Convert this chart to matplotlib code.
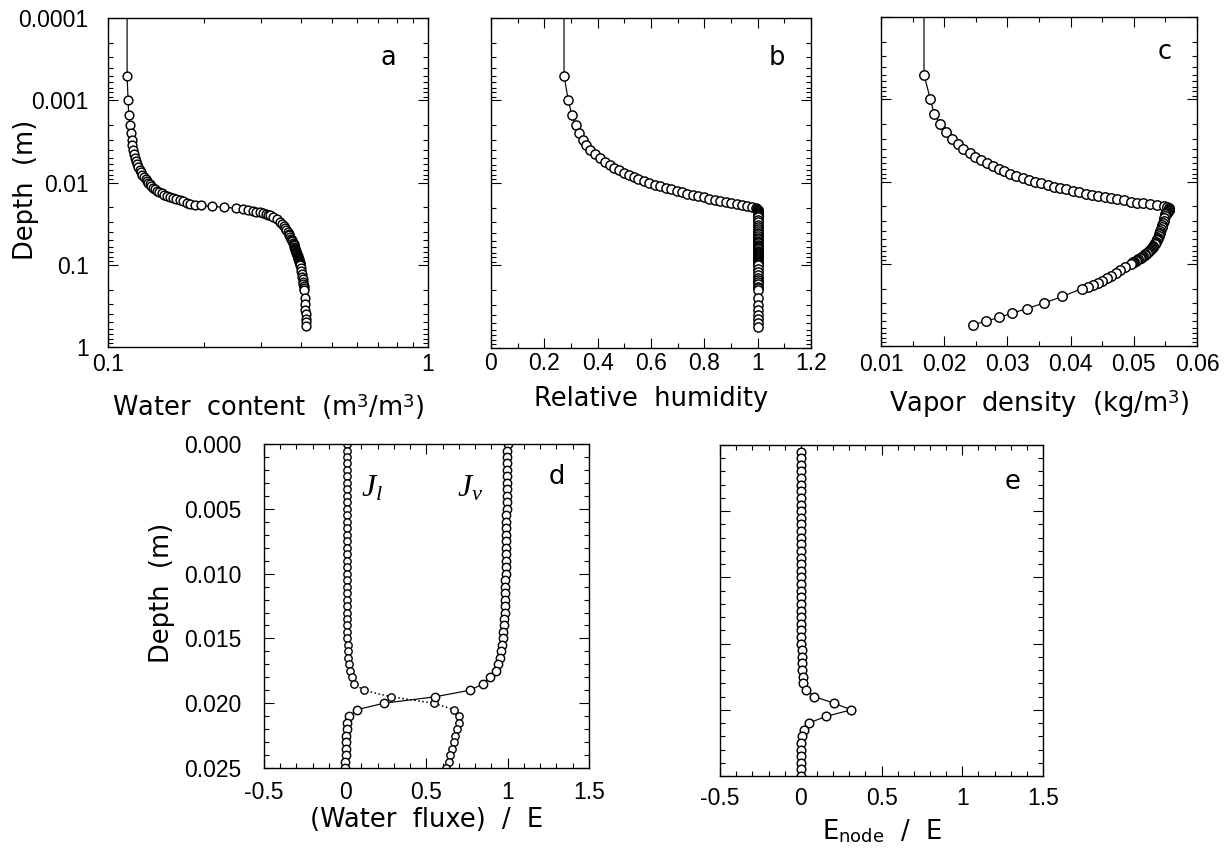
import matplotlib
matplotlib.use('Agg')
import matplotlib.pyplot as plt
from matplotlib.ticker import MultipleLocator, FuncFormatter, NullFormatter, LogLocator

# ---------------- data ----------------
# model node depths (mm)
depth_mm = [0, 0.5, 1, 1.5, 2, 2.5, 3, 3.5, 4, 4.5, 5, 5.5, 6, 6.5, 7, 7.5, 8, 8.5, 9, 9.5,
            10, 10.5, 11, 11.5, 12, 12.5, 13, 13.5, 14, 14.5, 15, 15.5, 16, 16.5, 17, 17.5,
            18, 18.5, 19, 19.5, 20, 20.5, 21, 21.5, 22, 22.5, 23, 23.5, 24, 24.5, 25,
            26, 28, 30, 32, 34, 36, 38, 40, 42, 44, 46, 48, 50, 52, 54, 56, 58, 60, 62, 64,
            66, 68, 70, 72, 74, 76, 78, 80, 82, 84, 86, 88, 90, 92, 94, 96, 98, 100,
            110, 120, 130, 140, 150, 160, 170, 180, 190,
            200, 250, 300, 350, 400, 450, 500, 550]

water_content = [0.1140, 0.1147, 0.1155, 0.1160, 0.1169, 0.1178, 0.1185, 0.1190, 0.1200, 0.1205,
                 0.1210, 0.1220, 0.1230, 0.1240, 0.1255, 0.1270, 0.1280, 0.1295, 0.1310, 0.1320,
                 0.1334, 0.1350, 0.1365, 0.1380, 0.1400, 0.1420, 0.1445, 0.1470, 0.1500, 0.1530,
                 0.1565, 0.1600, 0.1636, 0.1675, 0.1716, 0.1760, 0.1800, 0.1870, 0.1950, 0.2110,
                 0.2310, 0.2520, 0.2640, 0.2740, 0.2830, 0.2910, 0.2980, 0.3050, 0.3110, 0.3160,
                 0.3210,
                 0.328, 0.338, 0.345, 0.350, 0.354, 0.358, 0.361, 0.364, 0.367, 0.369, 0.371,
                 0.373, 0.375, 0.377, 0.378, 0.380, 0.381, 0.382, 0.383, 0.384, 0.385, 0.386,
                 0.387, 0.388, 0.389, 0.390, 0.391, 0.392, 0.393, 0.393, 0.394, 0.395, 0.395,
                 0.396, 0.397, 0.397, 0.398, 0.398,
                 0.400, 0.402, 0.404, 0.405, 0.406, 0.407, 0.408, 0.409, 0.409,
                 0.410, 0.412, 0.413, 0.414, 0.415, 0.415, 0.416, 0.416]

rel_humidity = [0.265, 0.274, 0.290, 0.303, 0.318, 0.331, 0.344, 0.358, 0.373, 0.390,
                0.409, 0.427, 0.445, 0.463, 0.481, 0.499, 0.517, 0.535, 0.553, 0.573,
                0.594, 0.614, 0.635, 0.655, 0.676, 0.696, 0.717, 0.737, 0.758, 0.778,
                0.799, 0.819, 0.840, 0.860, 0.881, 0.901, 0.922, 0.942, 0.960, 0.978,
                0.995, 0.999, 1.0, 1.0, 1.0, 1.0, 1.0, 1.0, 1.0, 1.0,
                1.0,
                1.0, 1.0, 1.0, 1.0, 1.0, 1.0, 1.0, 1.0, 1.0, 1.0, 1.0, 1.0, 1.0, 1.0, 1.0,
                1.0, 1.0, 1.0, 1.0, 1.0, 1.0, 1.0, 1.0, 1.0, 1.0, 1.0, 1.0, 1.0, 1.0, 1.0,
                1.0, 1.0, 1.0, 1.0, 1.0, 1.0, 1.0, 1.0,
                1.0, 1.0, 1.0, 1.0, 1.0, 1.0, 1.0, 1.0, 1.0,
                1.0, 1.0, 1.0, 1.0, 1.0, 1.0, 1.0, 1.0]

vapor_density = [0.0165, 0.0168, 0.0178, 0.0184, 0.0194, 0.0203, 0.0212, 0.0221, 0.0230, 0.0240,
                 0.0249, 0.0258, 0.0267, 0.0277, 0.0286, 0.0295, 0.0304, 0.0314, 0.0324, 0.0334,
                 0.0344, 0.0353, 0.0364, 0.0373, 0.0383, 0.0393, 0.0403, 0.0413, 0.0424, 0.0434,
                 0.0444, 0.0454, 0.0464, 0.0474, 0.0484, 0.0495, 0.0505, 0.0515, 0.0525, 0.0536,
                 0.0547, 0.0553, 0.0555, 0.0556, 0.0556, 0.0555, 0.0554, 0.0553, 0.0552, 0.0551,
                 0.0550,
                 0.0549, 0.0548, 0.0547, 0.0546, 0.0545, 0.0544, 0.0543, 0.0542, 0.0541, 0.0540,
                 0.0539, 0.0538, 0.0537, 0.0536, 0.0535, 0.0534, 0.0533, 0.0531, 0.0530, 0.0528,
                 0.0527, 0.0525, 0.0524, 0.0522, 0.0520, 0.0518, 0.0517, 0.0515, 0.0513, 0.0511,
                 0.0509, 0.0507, 0.0505, 0.0503, 0.0501, 0.0499, 0.0497, 0.0495,
                 0.0486, 0.0478, 0.0471, 0.0464, 0.0457, 0.0450, 0.0443, 0.0436, 0.0428,
                 0.0418, 0.0387, 0.0358, 0.0331, 0.0307, 0.0286, 0.0266, 0.0246]

# fluxes on the upper 0-25 mm nodes
J_liquid = [0.008, 0.008, 0.008, 0.008, 0.008, 0.008, 0.008, 0.008, 0.008, 0.008, 0.008,
            0.010, 0.010, 0.010, 0.010, 0.010, 0.010, 0.010, 0.010, 0.010, 0.010, 0.010, 0.010,
            0.010, 0.010, 0.012, 0.012, 0.012, 0.012, 0.012, 0.012,
            0.014, 0.016, 0.019, 0.023, 0.031, 0.040, 0.055, 0.115, 0.280, 0.545,
            0.670, 0.698, 0.698, 0.688, 0.678, 0.668, 0.658, 0.647, 0.636, 0.623]

J_vapor = [1.000, 0.995, 0.995, 0.995, 0.995, 0.995, 0.995, 0.995, 0.995, 0.995, 0.995,
           0.992, 0.992, 0.992, 0.992, 0.992, 0.992, 0.992, 0.992, 0.992, 0.992,
           0.985, 0.985, 0.985, 0.985, 0.985, 0.985,
           0.980, 0.977, 0.973, 0.968, 0.963, 0.957, 0.951, 0.943, 0.925, 0.893, 0.850,
           0.766, 0.554, 0.238, 0.072, 0.024, 0.012, 0.008, 0.005, 0.004, 0.003, 0.002,
           0.001, 0.000]

# node evaporation on nodes 0.5-25 mm
E_node = [0.0, 0.0, 0.0, 0.0, 0.0, 0.0, 0.0, 0.0, 0.0, 0.0,
          0.0, 0.0, 0.0, 0.0, 0.0, 0.0, 0.0, 0.0, 0.0, 0.0,
          0.002, 0.002, 0.002, 0.002, 0.003, 0.003, 0.003, 0.003, 0.004, 0.004, 0.005, 0.005, 0.006,
          0.008, 0.011, 0.016, 0.035, 0.082, 0.206, 0.312, 0.156, 0.048, 0.018, 0.008,
          0.004, 0.002, 0.001, 0.001, 0.001, 0.001]

depth = [d / 1000.0 for d in depth_mm]
n_fine = len(J_liquid)
depth_fine = depth[:n_fine]
depth_enode = depth[1:n_fine]

# ---------------- style ----------------
plt.rcParams['font.family'] = ['Liberation Sans Narrow', 'Liberation Sans', 'DejaVu Sans']
plt.rcParams['mathtext.fontset'] = 'custom'
plt.rcParams['mathtext.rm'] = 'DejaVu Sans'
plt.rcParams['mathtext.it'] = 'Liberation Serif:italic'
plt.rcParams['mathtext.sf'] = 'DejaVu Sans'

LABEL_FONT = dict(family='DejaVu Sans', fontsize=18.5)
MK = dict(marker='o', mfc='white', mec='black', mew=1.05, color='black', lw=0.85)

fig = plt.figure(figsize=(12.25, 8.51), dpi=100)
ax_a = fig.add_axes([0.0882, 0.5922, 0.2612, 0.3866])
ax_b = fig.add_axes([0.4008, 0.5911, 0.2612, 0.3878])
ax_c = fig.add_axes([0.7192, 0.5934, 0.2580, 0.3866])
ax_d = fig.add_axes([0.2155, 0.0975, 0.2653, 0.3807])
ax_e = fig.add_axes([0.5878, 0.0881, 0.2637, 0.3890])

gfmt = FuncFormatter(lambda v, p: f'{v:g}')


def style(ax, xpad, ypad):
    ax.tick_params(which='both', direction='in', top=True, right=True, width=0.8,
                   labelsize=16.5)
    ax.tick_params(which='major', length=7)
    ax.tick_params(which='minor', length=3.5)
    ax.tick_params(axis='x', which='both', pad=xpad)
    ax.tick_params(axis='y', which='both', pad=ypad)
    for s in ax.spines.values():
        s.set_linewidth(1.0)


def log_depth(ax, labels):
    ax.set_yscale('log')
    ax.set_ylim(1, 1e-4)
    ax.yaxis.set_major_locator(LogLocator(base=10, numticks=10))
    ax.yaxis.set_minor_locator(LogLocator(base=10, subs=range(2, 10), numticks=20))
    ax.yaxis.set_minor_formatter(NullFormatter())
    if labels:
        ax.yaxis.set_major_formatter(gfmt)
    else:
        ax.yaxis.set_major_formatter(NullFormatter())


# ---- a ----
ax_a.plot(water_content, depth, ms=6.3, **MK)
ax_a.set_xscale('log')
ax_a.set_xlim(0.1, 1)
ax_a.xaxis.set_major_formatter(gfmt)
ax_a.xaxis.set_minor_formatter(NullFormatter())
log_depth(ax_a, True)
style(ax_a, 4, 14)
ax_a.set_xlabel('Water  content  (m$^3$/m$^3$)', **LABEL_FONT)
ax_a.xaxis.set_label_coords(0.5, -0.135)
ax_a.set_ylabel('Depth  (m)', **LABEL_FONT)
ax_a.yaxis.set_label_coords(-0.215, 0.477)
ax_a.text(0.875, 0.88, 'a', transform=ax_a.transAxes, ha='center', va='center', **LABEL_FONT)

# ---- b ----
ax_b.plot(rel_humidity, depth, ms=6.6, **MK)
ax_b.set_xlim(0, 1.2)
ax_b.xaxis.set_major_locator(MultipleLocator(0.2))
ax_b.xaxis.set_minor_locator(MultipleLocator(0.1))
ax_b.xaxis.set_major_formatter(gfmt)
log_depth(ax_b, False)
style(ax_b, 3, 9)
ax_b.set_xlabel('Relative  humidity', **LABEL_FONT)
ax_b.xaxis.set_label_coords(0.5, -0.115)
ax_b.text(0.894, 0.88, 'b', transform=ax_b.transAxes, ha='center', va='center', **LABEL_FONT)

# ---- c ----
ax_c.plot(vapor_density, depth, ms=6.8, **MK)
ax_c.set_xlim(0.01, 0.06)
ax_c.xaxis.set_major_locator(MultipleLocator(0.01))
ax_c.xaxis.set_minor_locator(MultipleLocator(0.005))
ax_c.xaxis.set_major_formatter(FuncFormatter(lambda v, p: f'{v:.2f}'))
log_depth(ax_c, False)
style(ax_c, 5, 9)
ax_c.set_xlabel('Vapor  density  (kg/m$^3$)', **LABEL_FONT)
ax_c.xaxis.set_label_coords(0.5, -0.125)
ax_c.text(0.899, 0.893, 'c', transform=ax_c.transAxes, ha='center', va='center', **LABEL_FONT)

# ---- d ----
ax_d.plot(J_liquid, depth_fine, ls=':', marker='o', mfc='white', mec='black', mew=1.0,
          color='black', lw=1.1, ms=5.3)
ax_d.plot(J_vapor, depth_fine, ms=6.0, **MK)
ax_d.set_xlim(-0.5, 1.5)
ax_d.set_ylim(0.025, 0.0)
ax_d.xaxis.set_major_locator(MultipleLocator(0.5))
ax_d.xaxis.set_minor_locator(MultipleLocator(0.1))
ax_d.xaxis.set_major_formatter(gfmt)
ax_d.yaxis.set_major_locator(MultipleLocator(0.005))
ax_d.yaxis.set_minor_locator(MultipleLocator(0.001))
ax_d.yaxis.set_major_formatter(FuncFormatter(lambda v, p: f'{v:.3f}'))
style(ax_d, 9, 16)
ax_d.set_xlabel('(Water  fluxe)  /  E', **LABEL_FONT)
ax_d.xaxis.set_label_coords(0.5, -0.12)
ax_d.set_ylabel('Depth  (m)', **LABEL_FONT)
ax_d.yaxis.set_label_coords(-0.275, 0.54)
ax_d.text(0.332, 0.864, r'$J_l$', transform=ax_d.transAxes, ha='center', va='center', fontsize=23)
ax_d.text(0.634, 0.864, r'$J_\nu$', transform=ax_d.transAxes, ha='center', va='center', fontsize=23)
ax_d.text(0.90, 0.898, 'd', transform=ax_d.transAxes, ha='center', va='center', **LABEL_FONT)

# ---- e ----
ax_e.plot(E_node, depth_enode, ms=6.2, **MK)
ax_e.set_xlim(-0.5, 1.5)
ax_e.set_ylim(0.025, 0.0)
ax_e.xaxis.set_major_locator(MultipleLocator(0.5))
ax_e.xaxis.set_minor_locator(MultipleLocator(0.1))
ax_e.xaxis.set_major_formatter(gfmt)
ax_e.yaxis.set_major_locator(MultipleLocator(0.005))
ax_e.yaxis.set_minor_locator(MultipleLocator(0.001))
ax_e.yaxis.set_major_formatter(NullFormatter())
style(ax_e, 8, 9)
ax_e.set_xlabel(r'E$_{\mathrm{node}}$  /  E', **LABEL_FONT)
ax_e.xaxis.set_label_coords(0.5, -0.125)
ax_e.text(0.907, 0.888, 'e', transform=ax_e.transAxes, ha='center', va='center', **LABEL_FONT)

fig.savefig('out.png', dpi=100, facecolor='white')
